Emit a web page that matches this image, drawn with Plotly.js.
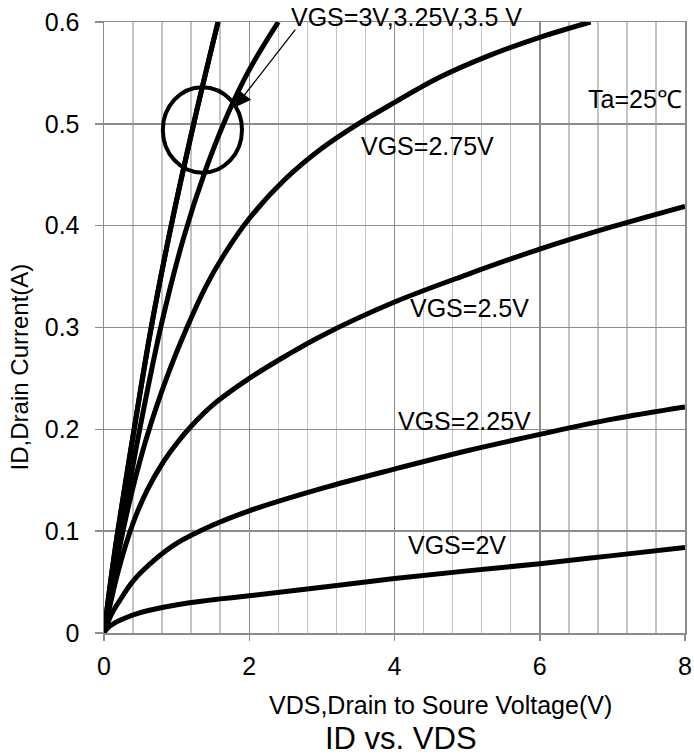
<!DOCTYPE html>
<html>
<head>
<meta charset="utf-8">
<script src="https://cdn.plot.ly/plotly-3.0.1.min.js"></script>
<style>html,body{margin:0;padding:0;background:#fff;}#chart{width:694px;height:756px;}</style>
</head>
<body>
<div id="chart"></div>
<script>
// VDS (V) / ID (A) values
const vds_35 = [0, 0.09, 0.19, 0.415, 0.65, 0.925, 1.235, 1.57];
const id_35 = [0, 0.05, 0.1, 0.2, 0.3, 0.4, 0.5, 0.6];
const vds_325 = [0, 0.09, 0.19, 0.415, 0.65, 0.925, 1.235, 1.57];
const id_325 = [0, 0.05, 0.1, 0.2, 0.3, 0.4, 0.5, 0.6];
const vds_3 = [0, 0.25, 0.5, 0.8, 1.1, 1.4, 1.7, 2.0, 2.4];
const id_3 = [0, 0.105, 0.203, 0.306, 0.389, 0.455, 0.509, 0.553, 0.6];
const vds_275 = [0, 0.15, 0.3, 0.45, 0.6, 0.86, 1.13, 1.4, 1.64, 2.0, 2.5, 3.0, 3.5, 4.0, 4.6, 5.3, 6.0, 6.7];
const id_275 = [0, 0.06, 0.113, 0.157, 0.195, 0.25, 0.298, 0.34, 0.37, 0.407, 0.446, 0.476, 0.5, 0.521, 0.545, 0.567, 0.585, 0.6];
const vds_25 = [0, 0.2, 0.4, 0.6, 0.8, 1.0, 1.2, 1.5, 2.0, 2.5, 3.0, 4.0, 5.0, 6.0, 7.0, 8.0];
const id_25 = [0, 0.062, 0.108, 0.141, 0.166, 0.186, 0.203, 0.224, 0.25, 0.272, 0.292, 0.325, 0.352, 0.377, 0.399, 0.419];
const vds_225 = [0, 0.1, 0.2, 0.4, 0.7, 1.0, 1.5, 2.0, 3.0, 4.0, 5.0, 6.0, 7.0, 8.0];
const id_225 = [0, 0.018, 0.03, 0.051, 0.072, 0.088, 0.106, 0.12, 0.142, 0.161, 0.179, 0.195, 0.21, 0.222];
const vds_2 = [0, 0.05, 0.15, 0.3, 0.5, 0.8, 1.2, 1.6, 2.0, 3.0, 4.0, 5.0, 6.0, 7.0, 8.0];
const id_2 = [0, 0.005, 0.01, 0.015, 0.02, 0.025, 0.03, 0.0335, 0.0365, 0.045, 0.0535, 0.061, 0.068, 0.076, 0.084];

const seriesNames = ['VGS=3.5V', 'VGS=3.25V', 'VGS=3V', 'VGS=2.75V', 'VGS=2.5V', 'VGS=2.25V', 'VGS=2V'];
const seriesX = [vds_35, vds_325, vds_3, vds_275, vds_25, vds_225, vds_2];
const seriesY = [id_35, id_325, id_3, id_275, id_25, id_225, id_2];

const xTickVals = [0, 2, 4, 6, 8];
const yTickVals = [0, 0.1, 0.2, 0.3, 0.4, 0.5, 0.6];
const yTickText = ['0', '0.1', '0.2', '0.3', '0.4', '0.5', '0.6'];

// curve labels inside the plot (data coordinates)
const labelTexts = ['Ta=25℃', 'VGS=2.75V', 'VGS=2.5V', 'VGS=2.25V', 'VGS=2V'];
const labelX = [7.31, 4.45, 5.03, 4.96, 4.86];
const labelY = [0.524, 0.478, 0.319, 0.208, 0.0864];
const topLabel = 'VGS=3V,3.25V,3.5 V';

const FONT = 'Liberation Sans, Arial, Helvetica, sans-serif';
const MAJOR = '#8c8c8c';
const MINOR = '#c4c4c4';

const traces = seriesNames.map((n, i) => ({
  type: 'scatter', mode: 'lines', name: n,
  x: seriesX[i], y: seriesY[i],
  line: {color: '#000', width: 5, shape: 'spline', smoothing: 1},
  hoverinfo: 'skip'
}));

const annotations = labelTexts.map((t, i) => ({
  x: labelX[i], y: labelY[i], xref: 'x', yref: 'y', text: t, showarrow: false,
  font: {family: FONT, size: 25, color: '#000'}, xanchor: 'center', yanchor: 'middle'
}));
annotations.push({x: 0.5215, y: 1.008, xref: 'paper', yref: 'paper', text: topLabel, showarrow: false,
  font: {family: FONT, size: 25, color: '#000'}, xanchor: 'center', yanchor: 'middle'});
// arrow pointing into the circle
annotations.push({
  x: 1.80, y: 0.516, xref: 'x', yref: 'y', ax: 2.65, ay: 0.594, axref: 'x', ayref: 'y',
  text: '', showarrow: true, arrowhead: 2, arrowsize: 2.5, arrowwidth: 1.3, arrowcolor: '#000'
});
// axis titles and chart title
annotations.push({x: 0.58, y: -0.118, xref: 'paper', yref: 'paper', text: 'VDS,Drain to Soure Voltage(V)',
  showarrow: false, font: {family: FONT, size: 25, color: '#000'}, xanchor: 'center', yanchor: 'middle'});
annotations.push({x: 0.511, y: -0.172, xref: 'paper', yref: 'paper', text: 'ID vs. VDS',
  showarrow: false, font: {family: FONT, size: 31, color: '#000'}, xanchor: 'center', yanchor: 'middle'});
annotations.push({x: -0.146, y: 0.435, xref: 'paper', yref: 'paper', text: 'ID,Drain Current(A)', textangle: -90,
  showarrow: false, font: {family: FONT, size: 24, color: '#000'}, xanchor: 'center', yanchor: 'middle'});

const layout = {
  width: 694, height: 756,
  margin: {l: 104, r: 9, t: 22, b: 123},
  paper_bgcolor: '#fff', plot_bgcolor: '#fff',
  showlegend: false,
  font: {family: FONT, size: 25, color: '#000'},
  xaxis: {
    range: [0, 8], tickvals: xTickVals, ticks: 'outside', ticklen: 6, tickcolor: MAJOR, tickwidth: 1.5,
    showgrid: true, gridcolor: MAJOR, gridwidth: 1.5,
    minor: {dtick: 0.4, tick0: 0, showgrid: true, gridcolor: MINOR, gridwidth: 1.5, ticks: ''},
    zeroline: false, showline: true, linecolor: MAJOR, linewidth: 1.5, mirror: true,
    tickfont: {family: FONT, size: 25, color: '#000'}, ticklabelstandoff: 4, fixedrange: true
  },
  yaxis: {
    range: [0, 0.6], tickvals: yTickVals, ticktext: yTickText,
    ticks: 'outside', ticklen: 8, tickcolor: MAJOR, tickwidth: 1.5,
    showgrid: true, gridcolor: MAJOR, gridwidth: 1.5,
    zeroline: false, showline: true, linecolor: MAJOR, linewidth: 1.5, mirror: true,
    tickfont: {family: FONT, size: 25, color: '#000'}, ticklabelstandoff: 10, fixedrange: true
  },
  shapes: [{
    type: 'circle', xref: 'x', yref: 'y', x0: 0.81, x1: 1.90, y0: 0.452, y1: 0.536,
    line: {color: '#000', width: 4}
  }],
  annotations: annotations
};

Plotly.newPlot('chart', traces, layout, {displayModeBar: false, staticPlot: true});
</script>
</body>
</html>
